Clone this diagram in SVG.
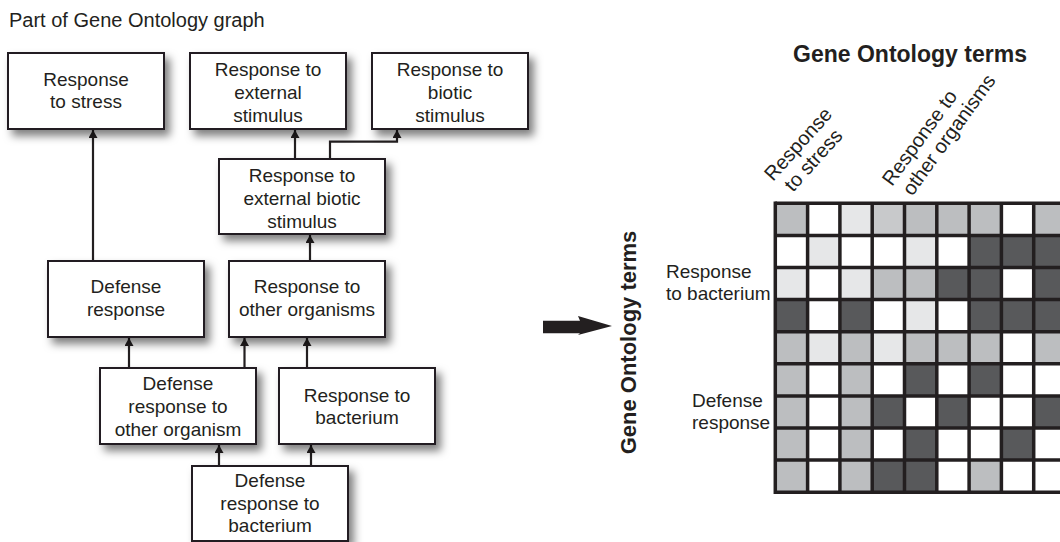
<svg xmlns="http://www.w3.org/2000/svg" width="1060" height="542" viewBox="0 0 1060 542">
<style>
text{font-family:"Liberation Sans",Arial,sans-serif;fill:#231f20}
.t{font-size:19px;text-anchor:middle}
.lbl{font-size:19px}
.rl{font-size:20px}
.box{fill:#fff;stroke:#231f20;stroke-width:2;filter:url(#sh)}
.c{fill:none;stroke:#231f20;stroke-width:2.2;marker-end:url(#ah)}
.M{fill:#bcbec0}.L{fill:#e6e7e8}.D{fill:#58595b}.W{fill:#fff}
.g{stroke:#231f20;stroke-width:3.5}
</style>
<defs>
<filter id="sh" x="-20%" y="-20%" width="150%" height="160%">
<feDropShadow dx="5" dy="6" stdDeviation="4" flood-color="#000" flood-opacity="0.5"/>
</filter>
<marker id="ah" markerUnits="userSpaceOnUse" markerWidth="10" markerHeight="10" refX="8" refY="4.5" orient="auto">
<path d="M0,0 L8,4.5 L0,9 Z" fill="#231f20"/>
</marker>
</defs>
<rect width="1060" height="542" fill="#fff"/>
<text x="9" y="27" style="font-size:20px">Part of Gene Ontology graph</text>

<g id="connectors">
<path class="c" d="M93,261 V130"/>
<path class="c" d="M310,261 V235"/>
<path class="c" d="M295,159 V130"/>
<path class="c" d="M330,159 V141.7 H397 V130"/>
<path class="c" d="M129,368 V338"/>
<path class="c" d="M244.5,368 V338"/>
<path class="c" d="M307,368 V338"/>
<path class="c" d="M219,466 V445"/>
<path class="c" d="M311,466 V445"/>
</g>

<g id="n1"><rect class="box" x="8" y="53" width="156" height="76"/>
<text class="t" x="86" y="86">Response</text><text class="t" x="86" y="108">to stress</text></g>
<g id="n2"><rect class="box" x="190" y="53" width="156" height="76"/>
<text class="t" x="268" y="76">Response to</text><text class="t" x="268" y="99">external</text><text class="t" x="268" y="122">stimulus</text></g>
<g id="n3"><rect class="box" x="372" y="53" width="156" height="76"/>
<text class="t" x="450" y="76">Response to</text><text class="t" x="450" y="99">biotic</text><text class="t" x="450" y="122">stimulus</text></g>
<g id="n4"><rect class="box" x="219" y="159" width="166" height="75"/>
<text class="t" x="302" y="181.5">Response to</text><text class="t" x="302" y="204.5">external biotic</text><text class="t" x="302" y="227.5">stimulus</text></g>
<g id="n5"><rect class="box" x="48" y="261" width="156" height="76"/>
<text class="t" x="126" y="293">Defense</text><text class="t" x="126" y="316">response</text></g>
<g id="n6"><rect class="box" x="229" y="261" width="156" height="76"/>
<text class="t" x="307" y="293">Response to</text><text class="t" x="307" y="316">other organisms</text></g>
<g id="n7"><rect class="box" x="100" y="368" width="156" height="76"/>
<text class="t" x="178" y="390">Defense</text><text class="t" x="178" y="413">response to</text><text class="t" x="178" y="436">other organism</text></g>
<g id="n8"><rect class="box" x="279" y="368" width="156" height="76"/>
<text class="t" x="357" y="401.5">Response to</text><text class="t" x="357" y="423.5">bacterium</text></g>
<g id="n9"><rect class="box" x="192" y="466" width="156" height="75"/>
<text class="t" x="270" y="487">Defense</text><text class="t" x="270" y="509.5">response to</text><text class="t" x="270" y="532">bacterium</text></g>

<g id="bigarrow"><path d="M543,320.7 L580,320.7 L578,316 L612,326 L578,335 L580,333.3 L543,333.3 Z" fill="#231f20"/></g>

<g id="matrix-labels">
<text x="910" y="62" style="font-size:23px;font-weight:bold;text-anchor:middle">Gene Ontology terms</text>
<text transform="translate(635.5,342.5) rotate(-90)" style="font-size:22px;font-weight:bold;text-anchor:middle">Gene Ontology terms</text>
<g transform="translate(773,182) rotate(-48)"><text class="rl" x="0" y="0">Response</text><text class="rl" x="5.5" y="22">to stress</text></g>
<g transform="translate(892,187) rotate(-54)"><text class="rl" x="0" y="0">Response to</text><text class="rl" x="4" y="22">other organisms</text></g>
<text class="lbl" x="666" y="278">Response</text><text class="lbl" x="666" y="300">to bacterium</text>
<text class="lbl" x="692" y="407">Defense</text><text class="lbl" x="692" y="429">response</text>
</g>

<g id="matrix">
<g transform="translate(775.3,203.3)">
<rect class="M" x="0" y="0" width="32.3" height="32.1"/><rect class="W" x="32.3" y="0" width="32.3" height="32.1"/><rect class="L" x="64.6" y="0" width="32.3" height="32.1"/><rect class="M" x="96.9" y="0" width="32.3" height="32.1" style="fill:#c8c9cb"/><rect class="M" x="129.2" y="0" width="32.3" height="32.1"/><rect class="M" x="161.5" y="0" width="32.3" height="32.1"/><rect class="M" x="193.8" y="0" width="32.3" height="32.1"/><rect class="W" x="226.1" y="0" width="32.3" height="32.1"/><rect class="M" x="258.4" y="0" width="32.3" height="32.1"/>
<rect class="W" x="0" y="32.1" width="32.3" height="32.1"/><rect class="L" x="32.3" y="32.1" width="32.3" height="32.1"/><rect class="W" x="64.6" y="32.1" width="32.3" height="32.1"/><rect class="W" x="96.9" y="32.1" width="32.3" height="32.1"/><rect class="L" x="129.2" y="32.1" width="32.3" height="32.1"/><rect class="W" x="161.5" y="32.1" width="32.3" height="32.1"/><rect class="D" x="193.8" y="32.1" width="32.3" height="32.1"/><rect class="D" x="226.1" y="32.1" width="32.3" height="32.1"/><rect class="D" x="258.4" y="32.1" width="32.3" height="32.1"/>
<rect class="L" x="0" y="64.2" width="32.3" height="32.1"/><rect class="W" x="32.3" y="64.2" width="32.3" height="32.1"/><rect class="L" x="64.6" y="64.2" width="32.3" height="32.1"/><rect class="M" x="96.9" y="64.2" width="32.3" height="32.1"/><rect class="M" x="129.2" y="64.2" width="32.3" height="32.1"/><rect class="D" x="161.5" y="64.2" width="32.3" height="32.1"/><rect class="D" x="193.8" y="64.2" width="32.3" height="32.1"/><rect class="W" x="226.1" y="64.2" width="32.3" height="32.1"/><rect class="D" x="258.4" y="64.2" width="32.3" height="32.1"/>
<rect class="D" x="0" y="96.3" width="32.3" height="32.1"/><rect class="W" x="32.3" y="96.3" width="32.3" height="32.1"/><rect class="D" x="64.6" y="96.3" width="32.3" height="32.1"/><rect class="W" x="96.9" y="96.3" width="32.3" height="32.1"/><rect class="L" x="129.2" y="96.3" width="32.3" height="32.1"/><rect class="W" x="161.5" y="96.3" width="32.3" height="32.1"/><rect class="D" x="193.8" y="96.3" width="32.3" height="32.1"/><rect class="D" x="226.1" y="96.3" width="32.3" height="32.1"/><rect class="D" x="258.4" y="96.3" width="32.3" height="32.1"/>
<rect class="M" x="0" y="128.4" width="32.3" height="32.1"/><rect class="L" x="32.3" y="128.4" width="32.3" height="32.1"/><rect class="M" x="64.6" y="128.4" width="32.3" height="32.1"/><rect class="L" x="96.9" y="128.4" width="32.3" height="32.1"/><rect class="M" x="129.2" y="128.4" width="32.3" height="32.1"/><rect class="M" x="161.5" y="128.4" width="32.3" height="32.1"/><rect class="M" x="193.8" y="128.4" width="32.3" height="32.1"/><rect class="W" x="226.1" y="128.4" width="32.3" height="32.1"/><rect class="M" x="258.4" y="128.4" width="32.3" height="32.1"/>
<rect class="M" x="0" y="160.5" width="32.3" height="32.1"/><rect class="W" x="32.3" y="160.5" width="32.3" height="32.1"/><rect class="M" x="64.6" y="160.5" width="32.3" height="32.1"/><rect class="W" x="96.9" y="160.5" width="32.3" height="32.1"/><rect class="D" x="129.2" y="160.5" width="32.3" height="32.1"/><rect class="W" x="161.5" y="160.5" width="32.3" height="32.1"/><rect class="D" x="193.8" y="160.5" width="32.3" height="32.1"/><rect class="W" x="226.1" y="160.5" width="32.3" height="32.1"/><rect class="W" x="258.4" y="160.5" width="32.3" height="32.1"/>
<rect class="M" x="0" y="192.6" width="32.3" height="32.1"/><rect class="W" x="32.3" y="192.6" width="32.3" height="32.1"/><rect class="M" x="64.6" y="192.6" width="32.3" height="32.1"/><rect class="D" x="96.9" y="192.6" width="32.3" height="32.1"/><rect class="W" x="129.2" y="192.6" width="32.3" height="32.1"/><rect class="D" x="161.5" y="192.6" width="32.3" height="32.1"/><rect class="W" x="193.8" y="192.6" width="32.3" height="32.1"/><rect class="W" x="226.1" y="192.6" width="32.3" height="32.1"/><rect class="D" x="258.4" y="192.6" width="32.3" height="32.1"/>
<rect class="M" x="0" y="224.7" width="32.3" height="32.1"/><rect class="W" x="32.3" y="224.7" width="32.3" height="32.1"/><rect class="M" x="64.6" y="224.7" width="32.3" height="32.1"/><rect class="W" x="96.9" y="224.7" width="32.3" height="32.1"/><rect class="D" x="129.2" y="224.7" width="32.3" height="32.1"/><rect class="W" x="161.5" y="224.7" width="32.3" height="32.1"/><rect class="W" x="193.8" y="224.7" width="32.3" height="32.1"/><rect class="D" x="226.1" y="224.7" width="32.3" height="32.1"/><rect class="W" x="258.4" y="224.7" width="32.3" height="32.1"/>
<rect class="M" x="0" y="256.8" width="32.3" height="32.1"/><rect class="W" x="32.3" y="256.8" width="32.3" height="32.1"/><rect class="M" x="64.6" y="256.8" width="32.3" height="32.1"/><rect class="D" x="96.9" y="256.8" width="32.3" height="32.1"/><rect class="D" x="129.2" y="256.8" width="32.3" height="32.1"/><rect class="W" x="161.5" y="256.8" width="32.3" height="32.1"/><rect class="M" x="193.8" y="256.8" width="32.3" height="32.1"/><rect class="W" x="226.1" y="256.8" width="32.3" height="32.1"/><rect class="W" x="258.4" y="256.8" width="32.3" height="32.1"/>
<g class="g">
<line x1="0" y1="-1.75" x2="0" y2="290.65"/><line x1="32.3" y1="0" x2="32.3" y2="288.9"/><line x1="64.6" y1="0" x2="64.6" y2="288.9"/><line x1="96.9" y1="0" x2="96.9" y2="288.9"/><line x1="129.2" y1="0" x2="129.2" y2="288.9"/><line x1="161.5" y1="0" x2="161.5" y2="288.9"/><line x1="193.8" y1="0" x2="193.8" y2="288.9"/><line x1="226.1" y1="0" x2="226.1" y2="288.9"/><line x1="258.4" y1="0" x2="258.4" y2="288.9"/>
<line x1="0" y1="0" x2="300" y2="0"/><line x1="0" y1="32.1" x2="300" y2="32.1"/><line x1="0" y1="64.2" x2="300" y2="64.2"/><line x1="0" y1="96.3" x2="300" y2="96.3"/><line x1="0" y1="128.4" x2="300" y2="128.4"/><line x1="0" y1="160.5" x2="300" y2="160.5"/><line x1="0" y1="192.6" x2="300" y2="192.6"/><line x1="0" y1="224.7" x2="300" y2="224.7"/><line x1="0" y1="256.8" x2="300" y2="256.8"/><line x1="0" y1="288.9" x2="300" y2="288.9"/>
</g>
</g>
</g>
</svg>
